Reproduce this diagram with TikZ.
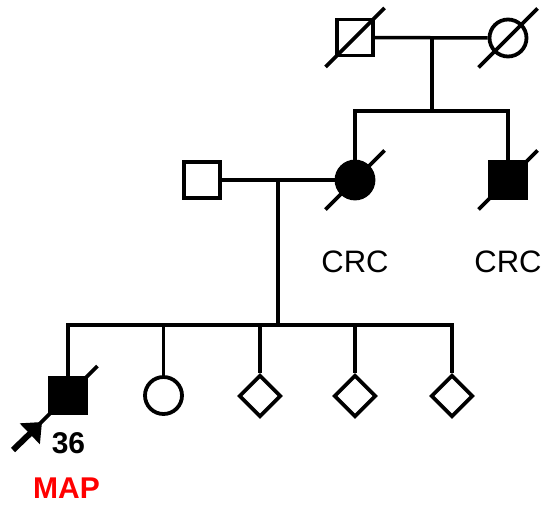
\documentclass[tikz,border=0pt]{standalone}
\usepackage{fontspec}
\setmainfont{Liberation Sans}
\usetikzlibrary{shapes.geometric,arrows.meta,calc}
\begin{document}
\begin{tikzpicture}[x=1pt,y=-1pt,
  male/.style={draw,line width=3.8pt,rectangle,minimum size=36pt,inner sep=0pt,fill=white},
  female/.style={draw,line width=3.8pt,circle,minimum size=37pt,inner sep=0pt,fill=white},
  unknown/.style={draw,line width=3.8pt,diamond,minimum size=42pt,inner sep=0pt,fill=white},
  affected/.style={fill=black},
  link/.style={line width=3.5pt},
  slash/.style={line width=3.8pt},
  lbl/.style={font=\fontsize{30}{36}\selectfont,anchor=base,inner sep=0pt},
]
\useasboundingbox (0,0) rectangle (543,504);

% generation I
\node[male]   (gf) at (355,37.5) {};
\node[female] (gm) at (508,38) {};
\coordinate (m1) at (432,37.5);
\coordinate (s1) at (432,111);

% generation II
\node[male]            (fa) at (202,180) {};
\node[female,affected] (mo) at (355,180) {};
\node[male,affected]   (br) at (508,180) {};
\coordinate (m2) at (278,180);
\coordinate (s2) at (278,325);

% generation III
\node[male,affected] (c1) at (68,395.5) {};
\node[female]        (c2) at (163.5,395.5) {};
\node[unknown]       (c3) at (260,396) {};
\node[unknown]       (c4) at (355,396) {};
\node[unknown]       (c5) at (452,396) {};

% marriages, descents and sibships
\draw[link] (gf) -- (gm);
\draw[link] (m1) -- (s1);
\draw[link] (s1) -| (mo);
\draw[link] (s1) -| (br);
\draw[link] (fa) -- (mo);
\draw[link] (m2) -- (s2);
\foreach \c in {c1,c2,c3,c4,c5} \draw[link] (s2) -| (\c);

% deceased marks
\foreach \n in {gf,gm,mo,br,c1}
  \draw[slash] ($(\n)+(-29.5,29.5)$) -- ($(\n)+(29.5,-29.5)$);

% proband arrow
\coordinate (pa) at (13,450);
\coordinate (pt) at (42,422);
\draw[line width=6pt,-{Triangle[length=17pt,width=28pt]}] (pa) -- (pt);

% labels
\node[lbl,font=\fontsize{31}{36}\selectfont] (l1) at (355,272) {CRC};
\node[lbl,font=\fontsize{31}{36}\selectfont] (l2) at (508,272) {CRC};
\node[lbl,font=\fontsize{30}{36}\selectfont\bfseries] (age) at (68.5,453) {36};
\node[lbl,font=\fontsize{30}{36}\selectfont\bfseries,text={rgb,255:red,255;green,0;blue,0}] (dx) at (66.5,498.5) {MAP};
\end{tikzpicture}
\end{document}
